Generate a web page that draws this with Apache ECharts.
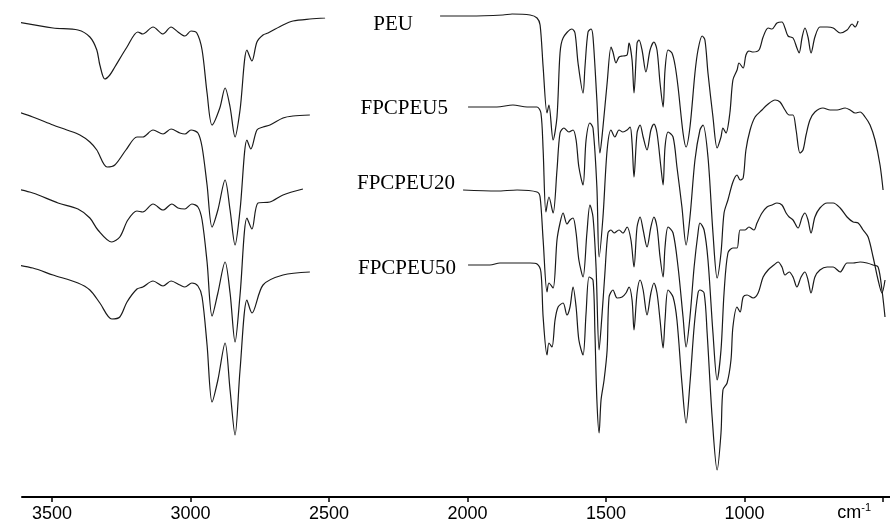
<!DOCTYPE html>
<html>
<head>
<meta charset="utf-8">
<script src="https://cdn.jsdelivr.net/npm/echarts@6/dist/echarts.min.js"></script>
<style>
  html, body { margin: 0; padding: 0; background: #fff; }
  #chart { width: 890px; height: 524px; }
</style>
</head>
<body>
<div id="chart"></div>
<script>
// FTIR spectra, [wavenumber cm-1, intensity a.u.], traces stacked with offsets
var names = ["PEU", "FPCPEU5", "FPCPEU20", "FPCPEU50"];
var tickValues = [500, 1000, 1500, 2000, 2500, 3000, 3500];

var peuHigh = [[3644,476],[3496,469],[3406,467],[3363,460],[3338,447],[3327,432],[3309,418],[3291,422],[3273,430],[3229,450],[3190,465],[3172,463],[3135,470],[3099,463],[3070,470],[3045,465],[3020,461],[2998,466],[2977,464],[2958,447],[2940,404],[2922,372],[2894,389],[2875,409],[2857,390],[2839,360],[2821,387],[2796,447],[2778,436],[2760,455],[2738,462],[2720,464],[2666,472],[2630,476],[2569,478],[2514,479]];
var peuLow = [[2099,481],[1991,481],[1872,482],[1839,483],[1774,482],[1749,479],[1738,472],[1727,430],[1713,384],[1706,392],[1691,357],[1677,380],[1666,444],[1655,459],[1623,468],[1612,464],[1601,434],[1583,404],[1576,430],[1565,465],[1554,468],[1547,460],[1533,397],[1522,344],[1511,370],[1496,414],[1482,450],[1475,445],[1464,434],[1453,440],[1439,441],[1424,442],[1417,454],[1406,437],[1399,404],[1388,454],[1381,457],[1370,447],[1356,425],[1341,447],[1327,455],[1316,447],[1305,414],[1294,390],[1287,427],[1276,447],[1262,444],[1251,432],[1240,410],[1222,364],[1211,350],[1197,370],[1179,424],[1168,447],[1153,461],[1143,457],[1132,424],[1114,380],[1099,349],[1085,360],[1078,369],[1067,364],[1053,384],[1042,417],[1027,427],[1020,434],[1005,429],[995,442],[984,446],[969,445],[948,447],[933,460],[915,469],[901,468],[883,474],[865,475],[854,469],[843,461],[825,459],[811,449],[803,444],[792,460],[782,469],[771,460],[760,444],[746,460],[728,470],[702,470],[680,469],[655,464],[630,467],[612,473],[601,470],[590,476]];

var fp5High = [[3644,387],[3569,380],[3496,372],[3446,367],[3399,362],[3363,355],[3338,347],[3301,330],[3273,332],[3233,347],[3193,360],[3172,360],[3135,367],[3099,363],[3070,368],[3038,364],[3020,363],[2998,367],[2973,364],[2958,350],[2940,312],[2922,270],[2901,287],[2875,317],[2857,287],[2839,252],[2821,287],[2796,357],[2782,348],[2760,367],[2738,370],[2713,372],[2666,379],[2630,381],[2569,382]];
var fp5Low = [[1998,390],[1894,390],[1836,392],[1785,390],[1749,390],[1735,384],[1727,347],[1717,285],[1706,300],[1691,284],[1677,327],[1666,364],[1652,369],[1634,365],[1619,367],[1608,357],[1598,330],[1583,312],[1572,357],[1558,374],[1547,369],[1533,310],[1525,240],[1511,280],[1496,347],[1482,367],[1468,360],[1453,367],[1439,365],[1424,367],[1413,370],[1406,354],[1399,320],[1388,364],[1377,372],[1366,360],[1352,347],[1338,367],[1327,373],[1316,364],[1302,330],[1294,312],[1287,350],[1276,365],[1258,360],[1244,330],[1226,290],[1211,252],[1197,280],[1179,337],[1161,367],[1150,372],[1132,340],[1114,264],[1099,219],[1085,244],[1074,284],[1060,297],[1042,315],[1027,322],[1016,317],[1005,319],[995,347],[980,367],[962,380],[937,387],[919,392],[890,397],[872,395],[854,387],[839,382],[825,382],[814,367],[800,344],[789,347],[778,362],[764,377],[746,385],[717,389],[691,387],[666,387],[637,389],[619,387],[601,384],[583,385],[565,380],[547,372],[529,357],[511,332],[500,307]];

var fp20High = [[3644,309],[3569,304],[3478,294],[3406,288],[3363,279],[3334,267],[3284,255],[3255,260],[3226,277],[3193,286],[3172,285],[3135,293],[3099,287],[3067,293],[3045,289],[3020,288],[2995,293],[2973,290],[2958,277],[2940,235],[2922,181],[2901,204],[2875,235],[2857,204],[2839,155],[2821,202],[2796,279],[2778,268],[2756,294],[2713,295],[2666,302],[2594,308]];
var fp20Low = [[2016,307],[1894,306],[1821,307],[1749,305],[1738,300],[1727,257],[1713,205],[1706,214],[1691,209],[1677,257],[1666,274],[1655,284],[1641,273],[1630,277],[1619,279],[1608,264],[1598,237],[1583,220],[1569,264],[1558,292],[1547,280],[1536,230],[1525,147],[1515,180],[1504,224],[1493,264],[1482,267],[1471,264],[1453,267],[1439,264],[1424,270],[1410,257],[1399,230],[1388,270],[1377,280],[1366,267],[1352,250],[1338,270],[1327,280],[1316,270],[1305,240],[1294,220],[1287,250],[1276,270],[1258,264],[1240,230],[1222,180],[1211,150],[1197,180],[1182,230],[1168,264],[1161,274],[1146,267],[1132,237],[1114,164],[1099,117],[1085,147],[1074,204],[1060,244],[1042,249],[1027,249],[1016,267],[998,267],[984,270],[966,267],[955,274],[937,284],[919,290],[901,292],[883,294],[865,292],[850,284],[839,280],[825,277],[807,269],[792,280],[782,284],[771,277],[760,264],[746,280],[728,289],[702,294],[680,294],[655,289],[630,280],[608,275],[590,274],[572,267],[554,260],[536,240],[518,217],[504,204],[493,217]];

var fp50High = [[3644,233],[3569,229],[3496,222],[3406,214],[3363,207],[3327,194],[3284,178],[3255,180],[3229,195],[3193,208],[3172,210],[3135,216],[3099,211],[3070,216],[3038,212],[3020,210],[2995,214],[2973,211],[2958,200],[2940,152],[2922,95],[2901,117],[2875,154],[2857,107],[2839,62],[2821,127],[2796,197],[2778,184],[2738,212],[2666,222],[2569,225]];
var fp50Low = [[1998,232],[1919,232],[1883,234],[1774,234],[1749,233],[1735,225],[1727,180],[1713,142],[1706,154],[1695,150],[1684,177],[1673,190],[1655,194],[1641,182],[1630,190],[1619,210],[1608,190],[1598,157],[1583,142],[1572,184],[1561,220],[1547,217],[1540,164],[1533,97],[1525,64],[1518,97],[1507,117],[1496,147],[1489,200],[1475,207],[1460,199],[1442,200],[1428,204],[1417,210],[1406,197],[1399,167],[1388,204],[1377,217],[1366,207],[1352,182],[1338,204],[1327,214],[1316,204],[1305,177],[1294,149],[1287,177],[1276,207],[1258,200],[1244,177],[1226,114],[1211,74],[1197,114],[1182,170],[1168,204],[1161,207],[1146,204],[1135,164],[1117,80],[1099,27],[1085,64],[1078,107],[1063,114],[1049,137],[1042,170],[1027,190],[1016,185],[1005,200],[991,202],[969,199],[951,204],[933,220],[915,227],[894,232],[879,235],[865,230],[854,222],[839,225],[825,220],[811,210],[796,220],[782,225],[771,217],[760,204],[746,220],[728,227],[702,230],[680,230],[655,225],[630,234],[608,234],[583,235],[558,234],[536,232],[518,230],[504,207],[493,180]];

var chart = echarts.init(document.getElementById("chart"));

function trace(data) {
  return {
    type: "line",
    data: data,
    showSymbol: false,
    smooth: 0.3,
    clip: false,
    silent: true,
    lineStyle: { color: "#1a1a1a", width: 1.2 }
  };
}

var labelPos = [[413, 24], [448, 108], [455, 183], [456, 268]];

chart.setOption({
  animation: false,
  grid: { left: 22, right: 0, top: 0, bottom: 27 },
  xAxis: {
    type: "value",
    inverse: true,
    min: 475,
    max: 3608,
    splitLine: { show: false },
    axisLine: { lineStyle: { color: "#000", width: 2 } },
    axisTick: { show: true, length: 5, lineStyle: { color: "#000", width: 1.5 }, customValues: tickValues },
    axisLabel: {
      customValues: tickValues.slice(1),
      formatter: function (v) { return String(v); },
      color: "#000",
      fontSize: 18,
      fontFamily: "Liberation Sans",
      margin: 8
    }
  },
  yAxis: { type: "value", min: 0, max: 497, show: false },
  graphic: names.map(function (n, i) {
    return {
      type: "text",
      x: labelPos[i][0],
      y: labelPos[i][1],
      style: {
        text: n,
        fill: "#000",
        font: "21px 'Liberation Serif'",
        textAlign: "right",
        textVerticalAlign: "middle"
      }
    };
  }).concat([{
    type: "text",
    x: 871,
    y: 513,
    style: {
      text: "{a|cm}{b|-1}",
      textAlign: "right",
      textVerticalAlign: "middle",
      rich: {
        a: { fontSize: 18, fontFamily: "Liberation Sans", fill: "#000" },
        b: { fontSize: 11, fontFamily: "Liberation Sans", fill: "#000", verticalAlign: "top", padding: [0, 0, 10, 0] }
      }
    }
  }]),
  series: [
    trace(peuHigh), trace(peuLow),
    trace(fp5High), trace(fp5Low),
    trace(fp20High), trace(fp20Low),
    trace(fp50High), trace(fp50Low)
  ]
});
</script>
</body>
</html>
